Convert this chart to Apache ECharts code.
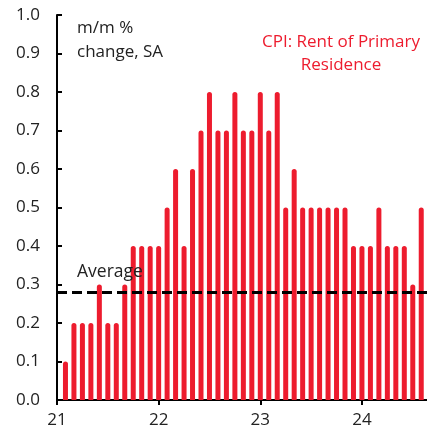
<!DOCTYPE html>
<html>
<head>
<meta charset="utf-8">
<script src="https://cdn.jsdelivr.net/npm/echarts@6/dist/echarts.min.js"></script>
<style>
html,body{margin:0;padding:0;background:#fff;}
#chart{width:427px;height:440px;}
</style>
</head>
<body>
<div id="chart"></div>
<script>
// Monthly periods (end of month), Jan 2021 .. Jul 2024
var months = [
  '2021-01','2021-02','2021-03','2021-04','2021-05','2021-06','2021-07','2021-08','2021-09','2021-10','2021-11','2021-12',
  '2022-01','2022-02','2022-03','2022-04','2022-05','2022-06','2022-07','2022-08','2022-09','2022-10','2022-11','2022-12',
  '2023-01','2023-02','2023-03','2023-04','2023-05','2023-06','2023-07','2023-08','2023-09','2023-10','2023-11','2023-12',
  '2024-01','2024-02','2024-03','2024-04','2024-05','2024-06','2024-07'
];
var rentValues = [
  0.1,0.2,0.2,0.2,0.3,0.2,0.2,0.3,0.4,0.4,0.4,0.4,
  0.5,0.6,0.4,0.6,0.7,0.8,0.7,0.7,0.8,0.7,0.7,0.8,
  0.7,0.8,0.5,0.6,0.5,0.5,0.5,0.5,0.5,0.5,0.4,0.4,
  0.4,0.5,0.4,0.4,0.4,0.3,0.5
];
var average = 0.28;
var xTickLabels = ['21','22','23','24'];
var yTickLabels = ['0.0','0.1','0.2','0.3','0.4','0.5','0.6','0.7','0.8','0.9','1.0'];

// position of each month on the year axis (end of month, year as 2-digit number)
var data = months.map(function (m, i) {
  var p = m.split('-');
  var x = (parseInt(p[0], 10) - 2000) + parseInt(p[1], 10) / 12;
  return [x, rentValues[i]];
});

var FONT = '"Open Sans", sans-serif';
var RED = '#ED1C2E';
var chart = echarts.init(document.getElementById('chart'), null, {renderer: 'canvas'});
chart.setOption({
  animation: false,
  backgroundColor: '#fff',
  grid: {left: 57, right: 0, top: 15, bottom: 40, containLabel: false},
  xAxis: {
    type: 'value',
    min: 21, max: 24.64, interval: 1,
    splitLine: {show: false},
    axisLine: {show: true, lineStyle: {color: '#000', width: 2}},
    axisTick: {show: true, inside: false, length: 5, lineStyle: {color: '#000', width: 2}},
    axisLabel: {
      show: true, margin: 12, color: '#222', fontSize: 17, fontFamily: FONT,
      showMaxLabel: false,
      formatter: function (v) {
        var i = Math.round(v) - 21;
        return Math.abs(v - Math.round(v)) < 1e-6 && xTickLabels[i] ? xTickLabels[i] : '';
      }
    }
  },
  yAxis: {
    type: 'value',
    min: 0, max: 1.0, interval: 0.1,
    splitLine: {show: false},
    axisLine: {show: true, lineStyle: {color: '#000', width: 2}},
    axisTick: {show: true, inside: true, length: 5, lineStyle: {color: '#000', width: 2}},
    axisLabel: {
      show: true, margin: 17, color: '#222', fontSize: 17, fontFamily: FONT,
      formatter: function (v) { return yTickLabels[Math.round(v * 10)]; }
    }
  },
  series: [{
    type: 'bar',
    data: data,
    barWidth: 5,
    itemStyle: {color: RED, borderRadius: [2.5, 2.5, 0, 0]},
    z: 2,
    markLine: {
      silent: true,
      symbol: ['none', 'none'],
      data: [{yAxis: average}],
      lineStyle: {color: '#000', type: [10, 5], width: 3},
      label: {
        show: true, position: 'insideStartTop', formatter: 'Average',
        color: '#222', fontSize: 17.5, fontFamily: FONT, distance: [20, 11]
      },
      z: 5
    }
  }],
  graphic: [
    {type: 'text', left: 77, top: 16, style: {text: 'm/m %\nchange, SA', fill: '#222', fontSize: 17, fontFamily: FONT, lineHeight: 24}},
    {type: 'text', x: 341, y: 31, style: {text: 'CPI: Rent of Primary\nResidence', fill: RED, fontSize: 17, fontFamily: FONT, lineHeight: 23, textAlign: 'center'}}
  ]
});
</script>
</body>
</html>
